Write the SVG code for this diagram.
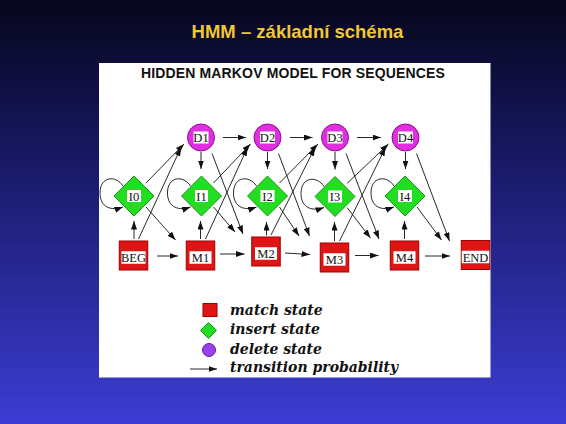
<svg xmlns="http://www.w3.org/2000/svg" width="566" height="424" viewBox="0 0 566 424">
<defs>
<linearGradient id="bg" x1="0" y1="0" x2="0" y2="1">
<stop offset="0" stop-color="#06061c"/>
<stop offset="0.35" stop-color="#171760"/>
<stop offset="1" stop-color="#3c3cd4"/>
</linearGradient>
<marker id="ah" markerUnits="userSpaceOnUse" markerWidth="9" markerHeight="6" refX="8.5" refY="3" orient="auto">
<path d="M0,0 L8.5,3 L0,6 z" fill="#111"/>
</marker>
<style>
.edge{fill:none;stroke:#111;stroke-width:0.9;marker-end:url(#ah)}
.del{fill:#e02ee0;stroke:#8a108a;stroke-width:1}
.ins{fill:#22dd22;stroke:#139913;stroke-width:1}
.mat{fill:#dd1515;stroke:#a00000;stroke-width:1}
.lb{fill:#fff}
.lt{font-family:"Liberation Serif","Times New Roman",serif;font-size:12.5px;fill:#111;text-anchor:middle}
.leg{font-family:"DejaVu Serif",serif;font-weight:bold;font-style:italic;font-size:14px;fill:#111}
</style>
</defs>
<rect x="0" y="0" width="566" height="424" fill="url(#bg)"/>
<text x="297.5" y="38" font-family="Liberation Sans, Arial, sans-serif" font-weight="bold" font-size="18.5" fill="#f0c832" text-anchor="middle">HMM – základní schéma</text>
<rect x="99" y="63" width="391.5" height="314.5" fill="#fff"/>
<text x="293" y="78" font-family="Liberation Sans, Arial, sans-serif" font-weight="bold" font-size="14" fill="#111" text-anchor="middle" letter-spacing="0.15">HIDDEN MARKOV MODEL FOR SEQUENCES</text>

<g id="connectors">
<line class="edge" x1="223" y1="137.5" x2="246" y2="137.5"/>
<line class="edge" x1="290" y1="137.5" x2="312.5" y2="137.5"/>
<line class="edge" x1="357" y1="137.5" x2="381" y2="137.5"/>
<line class="edge" x1="157" y1="256" x2="178" y2="256"/>
<line class="edge" x1="220" y1="254" x2="244.5" y2="254"/>
<line class="edge" x1="285" y1="253" x2="310" y2="254.5"/>
<line class="edge" x1="355" y1="255.5" x2="378.5" y2="255.5"/>
<line class="edge" x1="425" y1="256" x2="450" y2="256"/>
<line class="edge" x1="201" y1="152" x2="201" y2="169"/>
<line class="edge" x1="267.5" y1="152" x2="267.5" y2="169"/>
<line class="edge" x1="335" y1="152" x2="335" y2="169.5"/>
<line class="edge" x1="405.5" y1="152" x2="405.5" y2="169"/>
<line class="edge" x1="134" y1="239" x2="134" y2="221"/>
<line class="edge" x1="200.5" y1="239" x2="200.5" y2="221"/>
<line class="edge" x1="266.5" y1="235.5" x2="266.5" y2="222"/>
<line class="edge" x1="334.5" y1="241" x2="334.5" y2="222"/>
<line class="edge" x1="404.5" y1="239" x2="404.5" y2="221"/>
<line class="edge" x1="138.5" y1="239" x2="181" y2="147.5"/>
<line class="edge" x1="205.5" y1="239" x2="247.5" y2="147.5"/>
<line class="edge" x1="271" y1="235" x2="315" y2="147.5"/>
<line class="edge" x1="339.5" y1="241" x2="385.5" y2="147.5"/>
<line class="edge" x1="146" y1="183" x2="184" y2="144"/>
<line class="edge" x1="213.5" y1="183" x2="250.5" y2="144"/>
<line class="edge" x1="279.5" y1="183" x2="318" y2="144"/>
<line class="edge" x1="347" y1="183.5" x2="388.5" y2="144"/>
<line class="edge" x1="146" y1="207" x2="175.5" y2="240"/>
<line class="edge" x1="213.5" y1="207" x2="235" y2="232"/>
<line class="edge" x1="279.5" y1="207" x2="299" y2="236"/>
<line class="edge" x1="347" y1="207.5" x2="370.5" y2="238"/>
<line class="edge" x1="417" y1="207" x2="441.5" y2="240"/>
<line class="edge" x1="212" y1="153.5" x2="243" y2="234"/>
<line class="edge" x1="278.5" y1="153.5" x2="309.5" y2="236"/>
<line class="edge" x1="346" y1="153.5" x2="379" y2="239"/>
<line class="edge" x1="416.5" y1="153.5" x2="449.5" y2="241"/>
<path class="edge" transform="translate(134,196)" d="M-11,-10 C-18,-21 -34,-20 -34,-3 C-34,12 -22,15 -11,11"/>
<path class="edge" transform="translate(201.5,196)" d="M-11,-10 C-18,-21 -34,-20 -34,-3 C-34,12 -22,15 -11,11"/>
<path class="edge" transform="translate(267.5,196)" d="M-11,-10 C-18,-21 -34,-20 -34,-3 C-34,12 -22,15 -11,11"/>
<path class="edge" transform="translate(335,196.5)" d="M-11,-10 C-18,-21 -34,-20 -34,-3 C-34,12 -22,15 -11,11"/>
<path class="edge" transform="translate(405,196)" d="M-11,-10 C-18,-21 -34,-20 -34,-3 C-34,12 -22,15 -11,11"/>
</g>

<g id="D1"><circle class="del" cx="201" cy="137.5" r="13.5"/><rect class="lb" x="193.5" y="131.5" width="15" height="12"/><text class="lt" x="201" y="142">D1</text></g>
<g id="D2"><circle class="del" cx="267.5" cy="137.5" r="13.5"/><rect class="lb" x="260" y="131.5" width="15" height="12"/><text class="lt" x="267.5" y="142">D2</text></g>
<g id="D3"><circle class="del" cx="335" cy="137.5" r="13.5"/><rect class="lb" x="327.5" y="131.5" width="15" height="12"/><text class="lt" x="335" y="142">D3</text></g>
<g id="D4"><circle class="del" cx="405.5" cy="137.5" r="13.5"/><rect class="lb" x="398" y="131.5" width="15" height="12"/><text class="lt" x="405.5" y="142">D4</text></g>

<g id="I0"><polygon class="ins" points="134,176 154,196 134,216 114,196"/><rect class="lb" x="127" y="190" width="14" height="12"/><text class="lt" x="134" y="200.5">I0</text></g>
<g id="I1"><polygon class="ins" points="201.5,176 221.5,196 201.5,216 181.5,196"/><rect class="lb" x="195" y="190" width="13" height="12"/><text class="lt" x="201.5" y="200.5">I1</text></g>
<g id="I2"><polygon class="ins" points="267.5,176 287.5,196 267.5,216 247.5,196"/><rect class="lb" x="260.5" y="190" width="14" height="12"/><text class="lt" x="267.5" y="200.5">I2</text></g>
<g id="I3"><polygon class="ins" points="335,176.5 355,196.5 335,216.5 315,196.5"/><rect class="lb" x="328" y="190.5" width="14" height="12"/><text class="lt" x="335" y="201">I3</text></g>
<g id="I4"><polygon class="ins" points="405,176 425,196 405,216 385,196"/><rect class="lb" x="398" y="190" width="14" height="12"/><text class="lt" x="405" y="200.5">I4</text></g>

<g id="BEG"><rect class="mat" x="119.25" y="241" width="28.5" height="29"/><rect class="lb" x="121.5" y="251.25" width="24" height="12.5"/><text class="lt" x="133.5" y="262">BEG</text></g>
<g id="M1"><rect class="mat" x="186.25" y="241" width="28.5" height="29"/><rect class="lb" x="189.5" y="251.25" width="22" height="12.5"/><text class="lt" x="200.5" y="262">M1</text></g>
<g id="M2"><rect class="mat" x="251.75" y="237" width="28.5" height="29"/><rect class="lb" x="255" y="247.25" width="22" height="12.5"/><text class="lt" x="266" y="258">M2</text></g>
<g id="M3"><rect class="mat" x="320.25" y="243" width="28.5" height="29"/><rect class="lb" x="323.5" y="253.25" width="22" height="12.5"/><text class="lt" x="334.5" y="264">M3</text></g>
<g id="M4"><rect class="mat" x="390.25" y="241" width="28.5" height="29"/><rect class="lb" x="393.5" y="251.25" width="22" height="12.5"/><text class="lt" x="404.5" y="262">M4</text></g>
<g id="END"><rect class="mat" x="461.25" y="240.5" width="28.5" height="29"/><rect class="lb" x="461.75" y="250.75" width="27.5" height="12.5"/><text class="lt" x="475.5" y="261.5">END</text></g>

<g id="legend">
<rect class="mat" x="203" y="303.5" width="14" height="13"/>
<polygon class="ins" points="208.5,322.5 216.5,330.5 208.5,338.5 200.5,330.5"/>
<circle cx="209" cy="350" r="6.5" fill="#9b40e8" stroke="#6a1aa8" stroke-width="1"/>
<line class="edge" x1="190" y1="369" x2="217" y2="369"/>
<text class="leg" x="230" y="315">match state</text>
<text class="leg" x="230" y="334">insert state</text>
<text class="leg" x="230" y="353.5">delete state</text>
<text class="leg" x="230" y="371.5">transition probability</text>
</g>
</svg>
